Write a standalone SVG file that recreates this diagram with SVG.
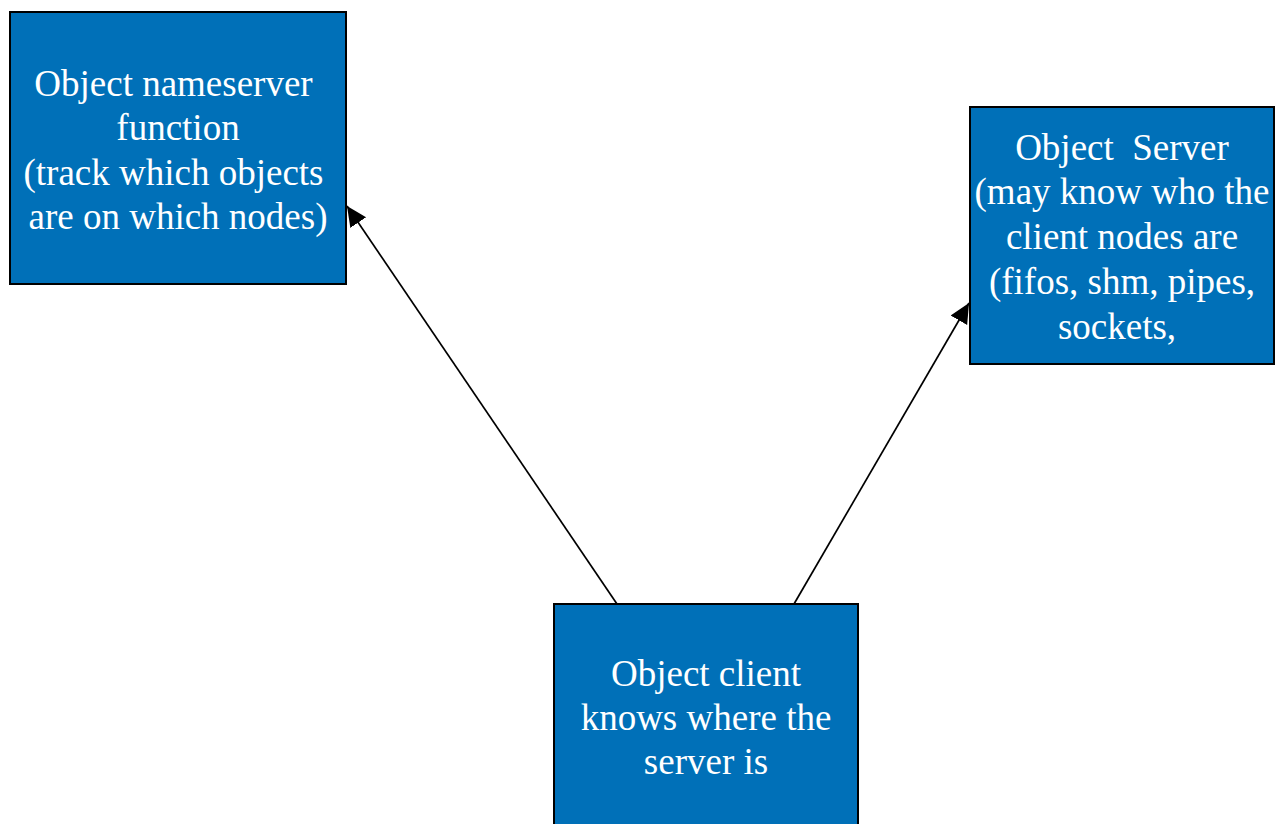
<svg xmlns="http://www.w3.org/2000/svg" width="1276" height="824" viewBox="0 0 1276 824">
  <style>
    .box { fill: #0070B8; stroke: #000; stroke-width: 2; }
    .label { font-family: "Liberation Serif", "Times New Roman", serif; font-size: 37px; fill: #fff; text-anchor: middle; }
    .link { stroke: #000; stroke-width: 1.7; fill: none; marker-end: url(#head); }
  </style>
  <defs>
    <marker id="head" markerUnits="userSpaceOnUse" markerWidth="22" markerHeight="22" refX="20" refY="10" orient="auto">
      <polygon points="0,0.5 20,10 0,19.5" fill="#000"/>
    </marker>
  </defs>

  <rect width="1276" height="824" fill="#fff"/>

  <g id="connectors">
    <line class="link" x1="617" y1="604" x2="347" y2="206"/>
    <line class="link" x1="794" y1="604" x2="969" y2="303"/>
  </g>

  <g id="nameserver">
    <rect class="box" x="10" y="12" width="336" height="272"/>
    <text class="label" x="173.5" y="96">Object nameserver</text>
    <text class="label" x="178" y="140">function</text>
    <text class="label" x="173.5" y="185">(track which objects</text>
    <text class="label" x="178" y="229">are on which nodes)</text>
  </g>

  <g id="server">
    <rect class="box" x="970" y="107" width="304" height="257"/>
    <text class="label" x="1122" y="160" xml:space="preserve">Object  Server</text>
    <text class="label" x="1122" y="204">(may know who the</text>
    <text class="label" x="1122" y="249">client nodes are</text>
    <text class="label" x="1122" y="294">(fifos, shm, pipes,</text>
    <text class="label" x="1117" y="339">sockets,</text>
  </g>

  <g id="client">
    <rect class="box" x="554" y="604" width="304" height="240"/>
    <text class="label" x="706" y="686">Object client</text>
    <text class="label" x="706" y="730">knows where the</text>
    <text class="label" x="706" y="774">server is</text>
  </g>
</svg>
